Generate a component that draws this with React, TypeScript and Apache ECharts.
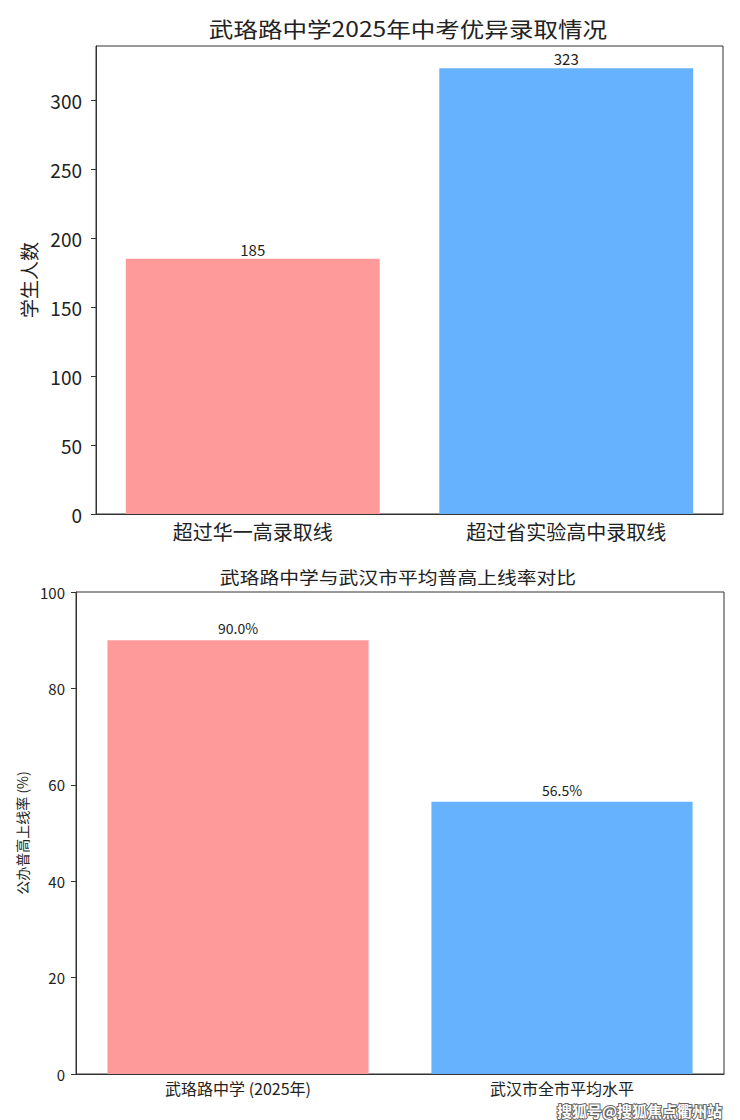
import React, { useEffect, useRef } from "react";
import * as echarts from "echarts";

const topTitle = "武珞路中学2025年中考优异录取情况";
const topCategories = ["超过华一高录取线", "超过省实验高中录取线"];
const topValues = [185, 323];
const topTicks = [0, 50, 100, 150, 200, 250, 300];
const topYName = "学生人数";

const bottomTitle = "武珞路中学与武汉市平均普高上线率对比";
const bottomCategories = ["武珞路中学 (2025年)", "武汉市全市平均水平"];
const bottomValues = [90.0, 56.5];
const bottomTicks = [0, 20, 40, 60, 80, 100];
const bottomYName = "公办普高上线率 (%)";

const barColors = ["#FF9A9A", "#66B2FF"];
const watermark = "搜狐号@搜狐焦点衢州站";

const FONT = "'Noto Sans CJK SC', 'Noto Sans', sans-serif";
const INK = "#222";
const AXIS = "#333";

export default function App() {
  const ref = useRef<HTMLDivElement>(null);
  useEffect(() => {
    if (!ref.current) return;
    const chart = echarts.init(ref.current, null, { renderer: "svg" });
    const topMax = Math.max(...topValues) * 1.05;
    const option: any = {
      animation: false,
      backgroundColor: "#fff",
      textStyle: { fontFamily: FONT },
      grid: [
        { left: 96, top: 46, right: 17, bottom: 606, show: true, borderColor: AXIS, borderWidth: 1, containLabel: false },
        { left: 76, top: 592, right: 16, bottom: 46, show: true, borderColor: AXIS, borderWidth: 1, containLabel: false },
      ],
      xAxis: [
        {
          type: "category",
          gridIndex: 0,
          data: topCategories,
          axisLine: { lineStyle: { color: AXIS } },
          axisTick: { alignWithLabel: true, length: 5, lineStyle: { color: AXIS } },
          axisLabel: { color: INK, fontSize: 20, margin: 7, fontFamily: FONT },
        },
        {
          type: "category",
          gridIndex: 1,
          data: bottomCategories,
          axisLine: { lineStyle: { color: AXIS } },
          axisTick: { alignWithLabel: true, length: 5, lineStyle: { color: AXIS } },
          axisLabel: { color: INK, fontSize: 16, margin: 6, lineHeight: 16, fontFamily: FONT },
        },
      ],
      yAxis: [
        {
          type: "value",
          gridIndex: 0,
          min: 0,
          max: topMax,
          interval: 50,
          name: topYName,
          nameLocation: "middle",
          nameGap: 58,
          nameTextStyle: { color: INK, fontSize: 19, fontFamily: FONT },
          splitLine: { show: false },
          axisLine: { show: true, lineStyle: { color: AXIS } },
          axisTick: { show: true, length: 5, lineStyle: { color: AXIS }, customValues: topTicks },
          axisLabel: {
            color: INK,
            fontSize: 19,
            margin: 14,
            fontFamily: FONT,
            customValues: topTicks,
            formatter: (v: number) => (topTicks.indexOf(v) >= 0 ? String(v) : ""),
          },
        },
        {
          type: "value",
          gridIndex: 1,
          min: 0,
          max: 100,
          interval: 20,
          name: bottomYName,
          nameLocation: "middle",
          nameGap: 46,
          nameTextStyle: { color: INK, fontSize: 14, fontFamily: FONT },
          splitLine: { show: false },
          axisLine: { show: true, lineStyle: { color: AXIS } },
          axisTick: { show: true, length: 5, lineStyle: { color: AXIS }, customValues: bottomTicks },
          axisLabel: { color: INK, fontSize: 15, margin: 11, fontFamily: FONT, customValues: bottomTicks },
        },
      ],
      series: [
        {
          type: "bar",
          xAxisIndex: 0,
          yAxisIndex: 0,
          barWidth: "81%",
          data: topValues.map((v, i) => ({ value: v, itemStyle: { color: barColors[i] } })),
          label: { show: true, position: "top", distance: 2, color: INK, fontSize: 15, fontFamily: FONT },
        },
        {
          type: "bar",
          xAxisIndex: 1,
          yAxisIndex: 1,
          barWidth: "80.6%",
          data: bottomValues.map((v, i) => ({ value: v, itemStyle: { color: barColors[i] } })),
          label: {
            show: true,
            position: "top",
            distance: 5,
            color: INK,
            fontSize: 14,
            fontFamily: FONT,
            formatter: (p: any) => Number(p.value).toFixed(1) + "%",
          },
        },
      ],
      graphic: [
        {
          type: "text",
          x: 408,
          y: 28,
          scaleX: 1.17,
          style: {
            text: topTitle,
            fontSize: 21,
            fill: INK,
            fontFamily: FONT,
            textAlign: "center",
            textVerticalAlign: "middle",
            align: "center",
            verticalAlign: "middle",
          },
        },
        {
          type: "text",
          x: 398,
          y: 577,
          scaleX: 1.2,
          style: {
            text: bottomTitle,
            fontSize: 16.5,
            fill: INK,
            fontFamily: FONT,
            textAlign: "center",
            textVerticalAlign: "middle",
            align: "center",
            verticalAlign: "middle",
          },
        },
        {
          type: "text",
          x: 722,
          y: 1110,
          style: {
            text: watermark,
            fontSize: 15,
            lineHeight: 15,
            fontWeight: "bold",
            fill: "#fff",
            stroke: "#666",
            lineWidth: 2,
            fontFamily: FONT,
            textAlign: "right",
            textVerticalAlign: "middle",
            align: "right",
            verticalAlign: "middle",
          },
        },
      ],
    };
    chart.setOption(option);
    return () => chart.dispose();
  }, []);
  return (
    <div
      ref={ref}
      style={{ position: "absolute", left: 0, top: 0, width: 740, height: 1120, background: "#fff" }}
    />
  );
}
